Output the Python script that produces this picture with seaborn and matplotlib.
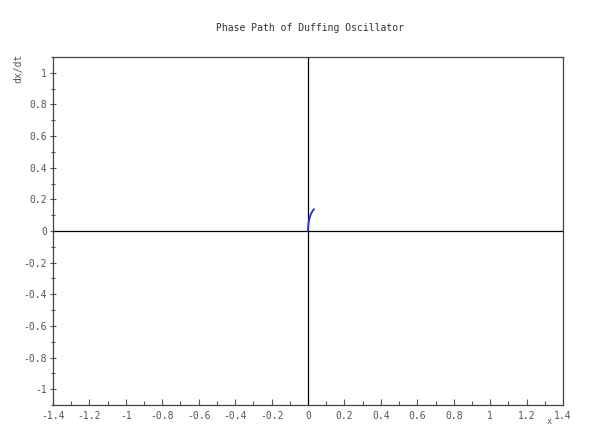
import numpy as np
import pandas as pd
import matplotlib
matplotlib.use("Agg")
import matplotlib.pyplot as plt
import seaborn as sns
from matplotlib.ticker import MultipleLocator

# phase path
x_pos = [0.0, 0.001, 0.003, 0.007, 0.012, 0.018, 0.025, 0.033]
x_vel = [0.0, 0.025, 0.05, 0.075, 0.095, 0.112, 0.126, 0.138]
xticks = [-1.4, -1.2, -1, -0.8, -0.6, -0.4, -0.2, 0, 0.2, 0.4, 0.6, 0.8, 1, 1.2, 1.4]
yticks = [-1, -0.8, -0.6, -0.4, -0.2, 0, 0.2, 0.4, 0.6, 0.8, 1]

path = pd.DataFrame({"x": x_pos, "dx/dt": x_vel})

sns.set_style("white")
plt.rcParams['font.family'] = ['DejaVu Sans Mono']

fig = plt.figure(figsize=(5.92, 4.26), dpi=100)
ax = fig.add_axes([53/592, 1 - 405/426, 510/592, 348/426])

ax.axhline(0, color="black", lw=0.9)
ax.axvline(0, color="black", lw=0.9)
sns.lineplot(data=path, x="x", y="dx/dt", sort=False, color="#2a2ad0", lw=1.3, ax=ax)

ax.set_xlim(-1.4, 1.4)
ax.set_ylim(-1.1, 1.1)
ax.set_xticks(xticks)
ax.set_xticklabels([f"{t:g}" for t in xticks])
ax.set_yticks(yticks)
ax.set_yticklabels([f"{t:g}" for t in yticks])
ax.xaxis.set_minor_locator(MultipleLocator(0.1))
ax.yaxis.set_minor_locator(MultipleLocator(0.1))
ax.tick_params(bottom=True, left=True, which="both")
ax.tick_params(axis="x", which="both", direction="in", length=4, width=0.8,
               labelsize=7, colors="#555555", pad=4)
ax.tick_params(axis="y", which="both", direction="inout", length=5, width=0.8,
               labelsize=7, colors="#555555", pad=2)
ax.tick_params(which="minor", length=3)
for s in ax.spines.values():
    s.set_color("#444444")
    s.set_linewidth(0.9)

ax.set_xlabel("")
ax.set_ylabel("")
fig.text(549/592, 1 - 422/426, "x", fontsize=6, color="#555555", ha="center", va="center")
fig.text(18/592, 1 - 68/426, "dx/dt", fontsize=7, color="#555555", ha="center", va="center",
         rotation=90)
fig.text(310/592, 1 - 28/426, "Phase Path of Duffing Oscillator", fontsize=7,
         color="#333333", ha="center", va="center")

fig.savefig("out.png", dpi=100)
